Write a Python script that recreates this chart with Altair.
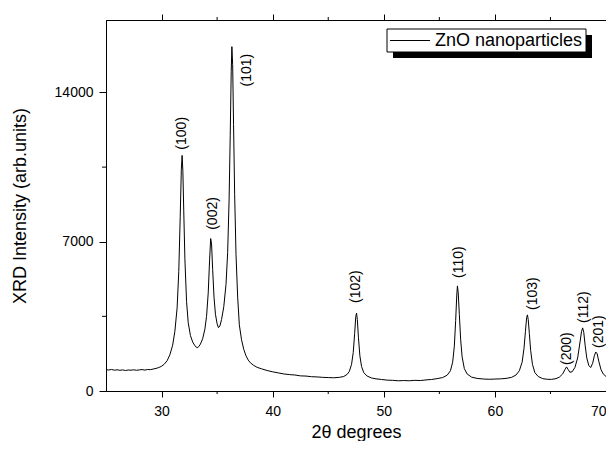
import altair as alt
import pandas as pd

# XRD pattern
two_theta = [
    25.0, 25.25, 25.5, 25.75, 26.0, 26.25, 26.5, 26.75, 27.0, 27.25, 27.5, 27.75,
    28.0, 28.25, 28.5, 28.75, 29.0, 29.25, 29.5, 29.75, 30.0, 30.25, 30.5, 30.75,
    31.0, 31.2, 31.4, 31.55, 31.68, 31.78, 31.85, 31.92, 32.0, 32.1, 32.25, 32.4,
    32.6, 32.8, 33.0, 33.2, 33.35, 33.5, 33.7, 33.9, 34.05, 34.2, 34.32, 34.42,
    34.5, 34.6, 34.72, 34.85, 35.0, 35.12, 35.25, 35.4, 35.6, 35.8, 35.95, 36.08,
    36.18, 36.27, 36.33, 36.4, 36.48, 36.58, 36.7, 36.85, 37.0, 37.2, 37.4, 37.6,
    37.8, 38.0, 38.3, 38.6, 39.0, 39.5, 40.0, 40.5, 41.0, 41.5, 42.0, 42.5,
    43.0, 43.5, 44.0, 44.5, 45.0, 45.5, 46.0, 46.4, 46.7, 46.9, 47.1, 47.25,
    47.38, 47.48, 47.55, 47.62, 47.72, 47.85, 48.0, 48.2, 48.5, 48.9, 49.3, 49.8,
    50.3, 50.8, 51.3, 51.8, 52.3, 52.8, 53.3, 53.8, 54.3, 54.8, 55.3, 55.7,
    56.0, 56.2, 56.35, 56.47, 56.57, 56.63, 56.7, 56.8, 56.92, 57.05, 57.25, 57.5,
    57.9, 58.4, 59.0, 59.5, 60.0, 60.5, 61.0, 61.5, 61.9, 62.2, 62.45, 62.62,
    62.75, 62.86, 62.93, 63.0, 63.1, 63.22, 63.38, 63.6, 63.9, 64.3, 64.7, 65.1,
    65.5, 65.8, 66.1, 66.3, 66.45, 66.58, 66.75, 66.95, 67.2, 67.45, 67.65, 67.8,
    67.9, 68.0, 68.12, 68.27, 68.45, 68.62, 68.8, 68.95, 69.08, 69.2, 69.35, 69.55,
    69.75, 70.0,
]
intensity = [
    1000, 985, 1010, 975, 995, 970, 990, 960, 985, 975, 995, 970,
    990, 1005, 980, 1010, 1000, 1030, 1060, 1100, 1160, 1260, 1420, 1700,
    2150, 2800, 3900, 5600, 8200, 10400, 11050, 10300, 8400, 6200, 4200, 3200,
    2600, 2300, 2120, 2030, 2080, 2200, 2450, 2900, 3500, 4600, 6100, 7150,
    6900, 5700, 4400, 3600, 3150, 2970, 3050, 3350, 3950, 5000, 6500, 9000,
    12000, 15000, 16150, 15300, 12500, 9200, 6400, 4400, 3100, 2400, 1950, 1650,
    1450, 1320, 1200, 1110, 1040, 960, 900, 850, 800, 770, 750, 710,
    700, 670, 660, 640, 630, 620, 640, 680, 780, 920, 1250, 1800,
    2700, 3500, 3650, 3350, 2500, 1650, 1150, 860, 700, 610, 570, 540,
    510, 500, 480, 490, 480, 500, 490, 520, 540, 580, 630, 740,
    950, 1350, 2100, 3300, 4500, 4930, 4600, 3600, 2400, 1600, 1050, 800,
    650, 590, 560, 550, 560, 570, 590, 640, 750, 950, 1350, 2000,
    2800, 3450, 3570, 3350, 2700, 1900, 1250, 860, 680, 580, 550, 545,
    580, 650, 800, 1000, 1130, 1020, 880, 900, 1100, 1550, 2250, 2800,
    2960, 2750, 2150, 1550, 1200, 1100, 1300, 1650, 1830, 1750, 1400, 1000,
    800, 680,
]

# Peak labels (position of the start of each rotated label)
peak_labels = ["(100)", "(002)", "(101)", "(102)", "(110)", "(103)", "(200)", "(112)", "(201)"]
label_x = [31.86, 34.64, 37.7, 47.49, 56.73, 63.39, 66.53, 68.03, 69.37]
label_y = [11320, 7560, 14280, 4130, 5300, 3800, 1220, 3190, 2020]

series_name = "ZnO nanoparticles"
x_title = "2θ degrees"
y_title = "XRD Intensity (arb.units)"
x_major = [30, 40, 50, 60, 70]
x_minor = [35, 45, 55, 65]
y_major = [0, 7000, 14000]
y_minor = [3500, 10500]

FONT = "Liberation Sans"
W, H = 500, 371

df = pd.DataFrame({"x": two_theta, "y": intensity})
lab = pd.DataFrame({"x": label_x, "y": label_y, "t": peak_labels})
xmin_df = pd.DataFrame({"x": x_minor})
ymin_df = pd.DataFrame({"y": y_minor})

xscale = alt.Scale(domain=[25, 70], nice=False, zero=False)
yscale = alt.Scale(domain=[0, 17400], nice=False, zero=False)

x_axis_bottom = alt.Axis(
    values=x_major, title=x_title, tickSize=6, format="d",
    labelPadding=7, labelFontSize=14, titleFontSize=18, titleFontWeight="normal",
    titleX=W / 2, titleY=46, titleBaseline="alphabetic", grid=False,
)
y_axis_left = alt.Axis(
    values=y_major, title=y_title, tickSize=7, format="d",
    labelPadding=6, labelFontSize=14, titleFontSize=18, titleFontWeight="normal",
    titleX=-86, titleBaseline="middle", grid=False,
)
x_axis_top = alt.Axis(orient="top", values=x_major, title=None, labels=False,
                      tickSize=6, grid=False)
y_axis_right = alt.Axis(orient="right", values=y_major, title=None, labels=False,
                        tickSize=4, grid=False)

line = alt.Chart(df).mark_line(color="black", strokeWidth=1).encode(
    x=alt.X("x:Q", scale=xscale, axis=x_axis_bottom),
    y=alt.Y("y:Q", scale=yscale, axis=y_axis_left),
)

labels = alt.Chart(lab).mark_text(
    angle=270, align="left", baseline="middle", fontSize=14, font=FONT, color="black"
).encode(
    x=alt.X("x:Q", scale=xscale, axis=x_axis_top),
    y=alt.Y("y:Q", scale=yscale, axis=y_axis_right),
    text="t:N",
)

# minor ticks on the four sides
minor_bottom = alt.Chart(xmin_df).mark_rule(color="black", strokeWidth=1).encode(
    x=alt.X("x:Q", scale=xscale, axis=None), y=alt.value(H), y2=alt.value(H + 3))
minor_top = alt.Chart(xmin_df).mark_rule(color="black", strokeWidth=1).encode(
    x=alt.X("x:Q", scale=xscale, axis=None), y=alt.value(-3), y2=alt.value(0))
minor_left = alt.Chart(ymin_df).mark_rule(color="black", strokeWidth=1).encode(
    y=alt.Y("y:Q", scale=yscale, axis=None), x=alt.value(-4), x2=alt.value(0))
minor_right = alt.Chart(ymin_df).mark_rule(color="black", strokeWidth=1).encode(
    y=alt.Y("y:Q", scale=yscale, axis=None), x=alt.value(W), x2=alt.value(W + 2))

one = alt.Data(values=[{}])
shadow = alt.Chart(one).mark_rect(color="black").encode(
    x=alt.value(287), x2=alt.value(486), y=alt.value(15), y2=alt.value(38)
)
box = alt.Chart(one).mark_rect(fill="white", stroke="black", strokeWidth=1).encode(
    x=alt.value(281), x2=alt.value(480), y=alt.value(9), y2=alt.value(32)
)
leg_line = alt.Chart(one).mark_rule(color="black", strokeWidth=1).encode(
    x=alt.value(284), x2=alt.value(324), y=alt.value(20.5)
)
leg_text = alt.Chart(one).mark_text(
    align="left", baseline="middle", fontSize=18, font=FONT, color="black", text=series_name
).encode(x=alt.value(329), y=alt.value(21))

chart = alt.layer(
    line, labels, minor_bottom, minor_top, minor_left, minor_right,
    shadow, box, leg_line, leg_text,
).resolve_axis(
    x="independent", y="independent"
).properties(
    width=W, height=H, autosize="none",
    padding={"left": 98, "top": 12, "right": 0, "bottom": 50},
).configure(font=FONT).configure_axis(
    domainColor="black", tickColor="black", labelColor="black", titleColor="black",
    labelFont=FONT, titleFont=FONT, domainWidth=1, tickWidth=1,
).configure_view(stroke="black", strokeWidth=1)

chart.save("out.html", embed_options={"renderer": "svg", "actions": False})
